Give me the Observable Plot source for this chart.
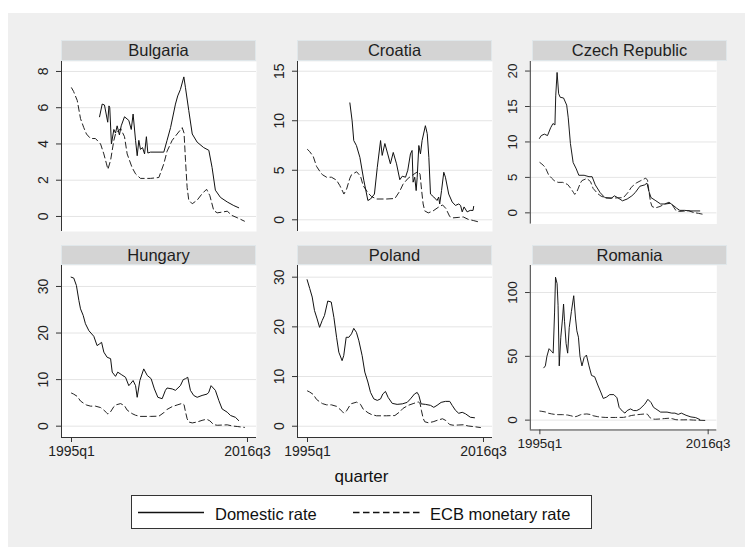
<!DOCTYPE html>
<html><head><meta charset="utf-8">
<script src="https://cdn.jsdelivr.net/npm/d3@7"></script>
<script src="https://cdn.jsdelivr.net/npm/@observablehq/plot@0.6"></script>
<style>
body{margin:0;background:#fff;font-family:"Liberation Sans",Arial,sans-serif;}
#root{position:relative;width:745px;height:547px;overflow:hidden;background:#fff;}
#bg{position:absolute;left:8px;top:13px;width:737px;height:534px;background:#efefef;}
.strip{position:absolute;background:#d4d4d4;border:1px solid #e0e7ea;box-sizing:border-box;display:flex;align-items:center;justify-content:center;font-size:16.5px;color:#1e1e1e;}
.panel{position:absolute;}
.panel svg{overflow:visible;}
.lbl{position:absolute;white-space:nowrap;color:#111;line-height:1;}
</style></head><body><div id="root"><div id="bg"></div></div>
<script>
// x = quarters since 1995q1 (0 = 1995q1, 86 = 2016q3)
const xTickValues = [0, 86];
const xTickLabels = ["1995q1", "2016q3"];
const countries = ["Bulgaria", "Croatia", "Czech Republic", "Hungary", "Poland", "Romania"];
const seriesNames = ["Domestic rate", "ECB monetary rate"];

const ecbRate = [[0,7.1],[1,6.9],[2.8,6.4],[4.4,5.4],[6,4.9],[7.3,4.55],[9.3,4.3],[11.7,4.3],[14.2,4.0],[15.8,3.45],[17.1,2.9],[17.8,2.6],[19.1,3.1],[20.7,4.2],[21.5,4.55],[24,4.85],[25.9,4.4],[27.2,3.45],[29.6,2.7],[31.3,2.35],[33.7,2.1],[38.6,2.1],[42.7,2.15],[45.1,2.9],[46.7,3.6],[49.2,4.2],[51.6,4.55],[54.1,4.9],[55,4.6],[55.7,3.1],[56.5,1.6],[57.3,0.9],[59,0.7],[61.4,0.9],[63.8,1.25],[66,1.5],[67.6,1.15],[69.5,0.33],[71.2,0.2],[73.6,0.24],[76.1,0.29],[78.5,0.05],[81,-0.07],[84.5,-0.26]];

const bulgariaRate = [[13.7,5.5],[15,6.2],[16.1,6.15],[17.7,5.2],[18.3,6.1],[18.7,6.0],[19.5,4.0],[20.7,4.8],[21.5,4.6],[22.3,5.0],[23.4,4.5],[24.3,5.0],[25.9,5.5],[28,5.3],[29.2,4.8],[30.1,5.65],[31.3,4.2],[32.1,3.35],[32.9,4.2],[33.7,3.7],[34.7,3.8],[35.7,3.45],[36.6,4.4],[37.3,3.5],[38.6,3.55],[45.1,3.55],[46.7,4.2],[48.4,4.9],[50.8,6.2],[51.9,6.65],[53.2,7.0],[54.9,7.7],[55.7,7.1],[57.3,5.85],[59,4.55],[61.4,4.1],[64.6,3.8],[67.1,3.65],[68.7,2.7],[70.3,1.45],[72.8,1.05],[76.1,0.8],[79.3,0.6],[81.7,0.48]];

const croatiaRate = [[20.7,11.8],[21.8,10.0],[22.6,8.0],[23.9,7.5],[25.6,6.3],[27.5,4.0],[29.5,1.95],[30.8,2.1],[32.7,2.6],[34.1,5.3],[35.7,8.0],[36.5,6.5],[37.8,7.7],[39.2,6.65],[40.5,5.65],[41.9,6.8],[43.5,5.65],[45.1,4.05],[46.3,4.4],[47.9,4.3],[49,5.0],[50.3,6.65],[51.1,7.0],[51.6,3.8],[52.4,4.3],[53.1,2.95],[53.6,4.3],[54.4,7.5],[55.2,6.65],[56,8.0],[57.6,9.5],[58.5,8.7],[59.3,6.3],[60.1,2.6],[61.7,2.3],[63.3,1.95],[64.1,2.3],[64.6,1.6],[65.5,2.95],[66.6,4.8],[67.4,4.3],[69,2.6],[70.7,1.8],[72.3,1.45],[73.9,1.6],[74.8,1.45],[75.6,0.8],[76.5,1.3],[78,0.8],[79.5,0.95],[80.9,0.95],[81.2,1.35]];

const czechRate = [[-0.2,10.5],[0.7,10.9],[2.3,11.1],[3.9,10.9],[5.5,12.0],[6.7,12.6],[7.7,12.4],[8.1,16.5],[8.8,19.8],[9.6,16.8],[10.4,16.3],[12.1,16.2],[13.7,15.2],[14.5,13.4],[15.6,9.8],[17,7.1],[18.6,6.2],[19.9,5.3],[22.6,5.3],[25.1,5.1],[26.7,5.1],[28.3,3.95],[30.8,2.85],[33.2,2.15],[36.5,2.05],[38.1,2.4],[39.7,2.15],[42.2,1.7],[44.6,1.95],[47,2.4],[48.7,2.85],[51.1,3.75],[53.6,3.95],[54.7,4.2],[55.7,3.05],[56.8,2.15],[59.3,1.7],[61.7,1.25],[64.1,1.25],[66.6,1.35],[68.2,1.05],[69.9,0.65],[71.5,0.35],[73.9,0.35],[77.2,0.27],[81.7,0.27]];

const hungaryRate = [[-0.2,32.0],[1.1,31.8],[2.4,30.2],[3.6,27.0],[4.4,25.2],[5.7,23.8],[6.8,22.0],[8.5,20.5],[10.9,19.3],[12.5,17.3],[13.8,17.7],[14.7,18.0],[15.8,15.9],[17.4,14.8],[19.1,14.5],[19.9,11.6],[21.5,10.7],[22.6,11.6],[24.3,11.1],[26.4,10.5],[28,8.7],[28.8,9.1],[30.1,9.8],[31.3,8.7],[32.1,6.2],[33.4,9.8],[35.3,12.3],[37,10.9],[38.9,10.2],[40.5,8.0],[42.2,6.2],[44.3,5.9],[45.9,7.7],[46.7,8.2],[49.2,8.0],[50.8,7.7],[53.2,8.7],[54.6,10.0],[55.7,10.2],[56.8,10.5],[58.1,7.7],[59.7,6.6],[61.4,6.2],[63.8,6.6],[66.3,6.9],[67.1,7.3],[68.2,8.7],[70.3,7.7],[72,5.5],[73.6,3.7],[76.1,3.0],[77.7,2.3],[80.1,1.9],[81.7,1.2]];

const polandRate = [[-0.2,29.5],[1.1,27.7],[2.3,26.0],[3.4,23.3],[4.7,21.6],[5.9,19.9],[7.2,21.3],[8.3,22.3],[9.9,25.2],[11.6,25.0],[12.9,21.9],[14.2,17.9],[15.3,14.9],[16.9,13.2],[17.7,14.2],[18.9,17.9],[20.2,17.9],[21.5,18.6],[22.6,19.7],[23.9,18.9],[25.1,17.2],[26.7,14.2],[28,10.9],[29.5,8.9],[30.8,6.8],[32.4,5.5],[34.1,5.2],[35.7,5.5],[36.8,6.5],[38.1,7.0],[39.4,5.8],[41.4,4.6],[43.8,4.4],[46.3,4.5],[48.7,4.8],[50.3,5.5],[52.3,6.5],[53.6,6.8],[54.4,6.2],[55.5,4.5],[57.6,4.4],[60.1,4.2],[61.7,3.8],[63.3,4.2],[65.3,4.8],[67.4,5.0],[69.5,5.0],[70.7,4.2],[72.3,3.2],[73.9,2.6],[75.6,2.8],[77.2,2.5],[79.6,1.8],[81.6,1.7]];

const romaniaRate = [[2,41],[2.8,42.5],[3.6,50],[4.7,56],[5.9,54],[6.8,52.5],[7.5,84],[8,112],[8.8,107],[9.3,90],[9.9,42.5],[10.7,65],[11.6,80],[12.1,91],[12.6,77.5],[13.4,60],[14.2,52.5],[15,72.5],[16.1,85],[17.3,97.5],[18.2,80],[18.9,70],[19.7,65],[20.5,50],[21.5,42.5],[22.6,49],[23.8,51],[25.1,42.5],[26.4,35],[28,34],[29.6,27.5],[31.3,21.3],[32.4,17],[34,18],[35.7,20],[37.8,20],[39.4,17.5],[40.5,10],[42.2,7],[43.5,5.5],[44.6,7.5],[46.3,8.8],[47.9,7.5],[49.5,7.5],[51.1,8.8],[53.6,12.5],[55.2,16.3],[56.8,13.8],[58.1,10],[59.3,8.8],[61.7,6.3],[65,6.3],[67.4,5.5],[69,5.5],[70.7,4.5],[72.3,5.5],[74.7,3.8],[77.2,2.5],[79.6,2.0],[81.7,0.5]];

const domesticRates = [bulgariaRate, croatiaRate, czechRate, hungaryRate, polandRate, romaniaRate];
const yTicks = [[0,2,4,6,8],[0,5,10,15],[0,5,10,15,20],[0,10,20,30],[0,10,20,30],[0,50,100]];
const yDomains = [[-0.83,8.55],[-1.18,15.98],[-1.58,21.35],[-2.43,34.5],[-2.27,32.35],[-7.7,121.2]];
const xDomain = [-4.89, 90.4];

// layout
const colLeft = [61, 297, 532];
const plotW = 195;
const rows = [{stripTop: 40, stripH: 21, plotTop: 61, plotH: 170}, {stripTop: 245, stripH: 20, plotTop: 265, plotH: 172}];
const ML = 50, MR = 30, MB = 30;
const root = document.getElementById("root");

countries.forEach((name, i) => {
  const r = rows[Math.floor(i / 3)], c = i % 3, bottom = i >= 3;
  const strip = document.createElement("div");
  strip.className = "strip";
  strip.style.left = colLeft[c] + "px";
  strip.style.top = r.stripTop + "px";
  strip.style.width = plotW + "px";
  strip.style.height = r.stripH + "px";
  strip.textContent = name;
  root.appendChild(strip);

  const yd = yDomains[i];
  const toObj = a => a.map(([t, v]) => ({t, v}));
  const svg = Plot.plot({
    width: ML + plotW + MR,
    height: r.plotH + (bottom ? MB : 0),
    marginLeft: ML, marginRight: MR, marginTop: 0, marginBottom: bottom ? MB : 0,
    style: {background: "transparent", fontFamily: "'Liberation Sans', Arial, sans-serif", color: "#222", overflow: "visible"},
    x: {domain: xDomain, axis: null},
    y: {domain: yd, axis: null},
    marks: [
      Plot.frame({fill: "white", stroke: null}),
      Plot.gridY(yTicks[i], {stroke: "#e4e4e4", strokeOpacity: 1, strokeWidth: 1}),
      Plot.axisY(yTicks[i], {tickSize: 5, text: null, label: null, stroke: "#333"}),
      Plot.text(yTicks[i], {y: d => d, text: d => String(d), frameAnchor: "left", dx: -18, rotate: -90, textAnchor: "middle", lineAnchor: "middle", fontSize: 14, fill: "#222"}),
      Plot.ruleX([xDomain[0]], {stroke: "#333", strokeWidth: 1}),
      bottom ? Plot.ruleY([yd[0]], {stroke: "#333", strokeWidth: 1}) : null,
      bottom ? Plot.axisX(xTickValues, {tickSize: 5, tickPadding: 4, fontSize: 14, label: null, stroke: "#333", fill: "#222", tickFormat: d => xTickLabels[xTickValues.indexOf(d)]}) : null,
      Plot.line(toObj(ecbRate), {x: "t", y: "v", stroke: "#222", strokeWidth: 1, strokeDasharray: "6,3.5"}),
      Plot.line(toObj(domesticRates[i]), {x: "t", y: "v", stroke: "#111", strokeWidth: 1})
    ]
  });
  const holder = document.createElement("div");
  holder.className = "panel";
  holder.style.left = (colLeft[c] - ML) + "px";
  holder.style.top = r.plotTop + "px";
  holder.appendChild(svg);
  root.appendChild(holder);
});

// x axis title
const xt = document.createElement("div");
xt.className = "lbl";
xt.style.cssText = "left:261.5px;width:200px;text-align:center;top:468px;font-size:17px;";
xt.textContent = "quarter";
root.appendChild(xt);

// legend
const leg = document.createElement("div");
leg.style.cssText = "position:absolute;left:131px;top:495px;width:461px;height:34px;box-sizing:border-box;background:#fff;border:1px solid #333;";
root.appendChild(leg);
const legSvg = document.createElementNS("http://www.w3.org/2000/svg", "svg");
legSvg.setAttribute("width", 461); legSvg.setAttribute("height", 34);
legSvg.style.cssText = "position:absolute;left:131px;top:495px;";
const mk = (x1, x2, dash) => {
  const l = document.createElementNS("http://www.w3.org/2000/svg", "line");
  l.setAttribute("x1", x1); l.setAttribute("x2", x2); l.setAttribute("y1", 17.5); l.setAttribute("y2", 17.5);
  l.setAttribute("stroke", "#111"); l.setAttribute("stroke-width", 1.3);
  if (dash) l.setAttribute("stroke-dasharray", dash);
  legSvg.appendChild(l);
};
mk(7, 73, null);
mk(222, 289, "6.5,3.5");
root.appendChild(legSvg);
[[215, seriesNames[0]], [430, seriesNames[1]]].forEach(([x, t]) => {
  const d = document.createElement("div");
  d.className = "lbl";
  d.style.cssText = `left:${x}px;top:506px;font-size:16.5px;`;
  d.textContent = t;
  root.appendChild(d);
});
</script></body></html>
